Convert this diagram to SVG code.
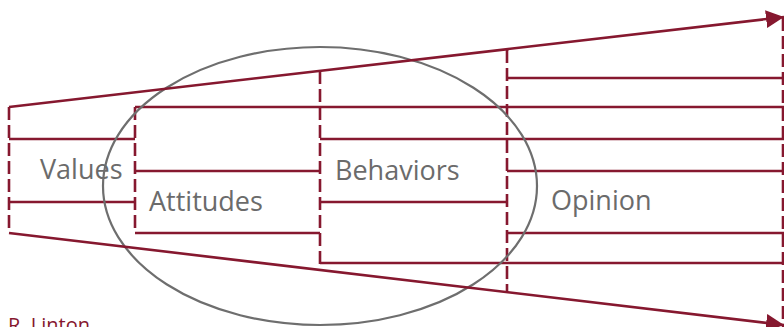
<svg xmlns="http://www.w3.org/2000/svg" width="784" height="327" viewBox="0 0 784 327">
  <style>
    .bar { stroke: #86182f; stroke-width: 2.6; fill: none; }
    .dash { stroke: #86182f; stroke-width: 2.6; fill: none; stroke-dasharray: 13 5; }
    .lbl { font-family: "Open Sans", "Noto Sans", sans-serif; font-size: 27px; fill: #6b6b6b; }
    .ring { stroke: #6e6e6e; stroke-width: 2.2; fill: none; }
  </style>
  <defs>
    <marker id="head" markerUnits="userSpaceOnUse" markerWidth="20" markerHeight="18" refX="18" refY="9" orient="auto">
      <path d="M0,0 L18,9 L0,18 Z" fill="#86182f"/>
    </marker>
  </defs>
  <rect width="784" height="327" fill="#ffffff"/>

  <!-- stage: values -->
  <g id="values">
    <line class="dash" x1="9" y1="107" x2="9" y2="233"/>
    <line class="bar" x1="9" y1="139" x2="135" y2="139"/>
    <line class="bar" x1="9" y1="202" x2="135" y2="202"/>
    <text class="lbl" x="40" y="179">Values</text>
  </g>

  <!-- stage: attitudes -->
  <g id="attitudes">
    <line class="dash" x1="135" y1="107" x2="135" y2="233"/>
    <line class="bar" x1="135" y1="107" x2="784" y2="107"/>
    <line class="bar" x1="135" y1="171" x2="320" y2="171"/>
    <line class="bar" x1="135" y1="233" x2="320" y2="233"/>
    <text class="lbl" x="149" y="211">Attitudes</text>
  </g>

  <!-- stage: behaviors -->
  <g id="behaviors">
    <line class="dash" x1="320" y1="71" x2="320" y2="270"/>
    <line class="bar" x1="320" y1="139" x2="784" y2="139"/>
    <line class="bar" x1="320" y1="202" x2="507" y2="202"/>
    <line class="bar" x1="320" y1="263" x2="784" y2="263"/>
    <text class="lbl" x="335" y="180">Behaviors</text>
  </g>

  <!-- stage: opinion -->
  <g id="opinion">
    <line class="dash" x1="507" y1="50" x2="507" y2="292"/>
    <line class="bar" x1="507" y1="78" x2="784" y2="78"/>
    <line class="bar" x1="507" y1="171" x2="784" y2="171"/>
    <line class="bar" x1="507" y1="233" x2="784" y2="233"/>
    <text class="lbl" x="551" y="210">Opinion</text>
  </g>

  <!-- right-hand boundary -->
  <g id="edge">
    <line class="dash" x1="783" y1="18" x2="783" y2="327"/>
  </g>

  <!-- circle of influence -->
  <g id="ellipse">
    <ellipse class="ring" cx="320" cy="186" rx="217" ry="139"/>
  </g>

  <!-- widening funnel arrows -->
  <g id="connectors">
    <line class="bar" x1="9" y1="107" x2="784" y2="17" marker-end="url(#head)"/>
    <line class="bar" x1="9" y1="233" x2="784" y2="325" marker-end="url(#head)"/>
  </g>

  <g id="author">
    <text x="8" y="332" font-family="'Open Sans', 'Noto Sans', sans-serif" font-size="20" fill="#86182f">R. Linton</text>
  </g>
</svg>
